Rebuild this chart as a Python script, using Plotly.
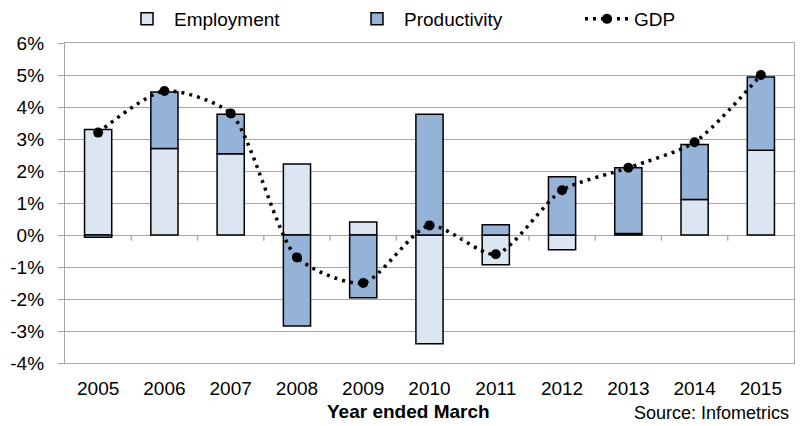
import plotly.graph_objects as go

# Annual growth decomposition, year ended March
years = ["2005", "2006", "2007", "2008", "2009", "2010",
         "2011", "2012", "2013", "2014", "2015"]
employment = [3.30, 2.70, 2.54, 2.22, 0.41, -3.40, -0.93, -0.46, 0.05, 1.11, 2.65]
productivity = [-0.07, 1.77, 1.23, -2.84, -1.96, 3.77, 0.32, 1.82, 2.05, 1.72, 2.29]
gdp = [3.2, 4.5, 3.8, -0.7, -1.5, 0.3, -0.6, 1.4, 2.1, 2.9, 5.0]

y_ticks = [-4, -3, -2, -1, 0, 1, 2, 3, 4, 5, 6]
y_tick_text = ["-4%", "-3%", "-2%", "-1%", "0%", "1%", "2%", "3%", "4%", "5%", "6%"]

FONT = "Liberation Sans, Arial, sans-serif"
GRID = "#a6a6a6"

fig = go.Figure()
fig.add_trace(go.Bar(
    x=years, y=employment, name="Employment",
    marker=dict(color="#dce6f2", line=dict(color="#000000", width=1.5)),
    width=0.41,
))
fig.add_trace(go.Bar(
    x=years, y=productivity, name="Productivity",
    marker=dict(color="#95b3d7", line=dict(color="#000000", width=1.5)),
    width=0.41,
))
fig.add_trace(go.Scatter(
    x=years, y=gdp, name="GDP", mode="lines+markers",
    line=dict(color="#000000", width=3.5, dash="3px,5px", shape="spline", smoothing=0.7),
    marker=dict(color="#000000", size=10),
))

# category-boundary tick marks on the zero line
shapes = []
for i in range(len(years) - 1):
    shapes.append(dict(
        type="line", xref="x", yref="y",
        x0=i + 0.5, x1=i + 0.5, y0=0, y1=-0.18,
        line=dict(color=GRID, width=1.3),
    ))

fig.update_layout(
    width=800, height=426,
    margin=dict(l=65, r=6, t=43, b=63, autoexpand=False),
    paper_bgcolor="white", plot_bgcolor="white",
    barmode="relative",
    font=dict(family=FONT, size=19, color="#000000"),
    shapes=shapes,
    showlegend=True,
    legend=dict(
        orientation="h", xref="container", yref="container",
        x=0.15, xanchor="left", y=1.0, yanchor="top",
        itemwidth=44,
        entrywidth=171, entrywidthmode="pixels",
        font=dict(size=19), bgcolor="rgba(0,0,0,0)",
        traceorder="normal",
    ),
    xaxis=dict(
        type="category", range=[-0.5, len(years) - 0.5],
        showgrid=False, ticks="",
        showline=True, linecolor=GRID, linewidth=1.3, mirror=True,
        tickfont=dict(size=19), ticklabelstandoff=8,
    ),
    yaxis=dict(
        range=[-4, 6], tickvals=y_ticks, ticktext=y_tick_text,
        showgrid=True, gridcolor=GRID, gridwidth=1.3,
        zeroline=False,
        showline=True, linecolor=GRID, linewidth=1.3, mirror=True,
        ticks="outside", ticklen=6, tickcolor=GRID, tickwidth=1.3,
        tickfont=dict(size=19), ticklabelstandoff=10,
    ),
    annotations=[
        dict(text="<b>Year ended March</b>", xref="paper", yref="paper",
             x=0.471, y=-0.15, xanchor="center", yanchor="middle",
             showarrow=False, font=dict(size=19)),
        dict(text="Source: Infometrics", xref="paper", yref="paper",
             x=0.996, y=-0.156, xanchor="right", yanchor="middle",
             showarrow=False, font=dict(size=18)),
    ],
)

fig.write_html("out.html")
